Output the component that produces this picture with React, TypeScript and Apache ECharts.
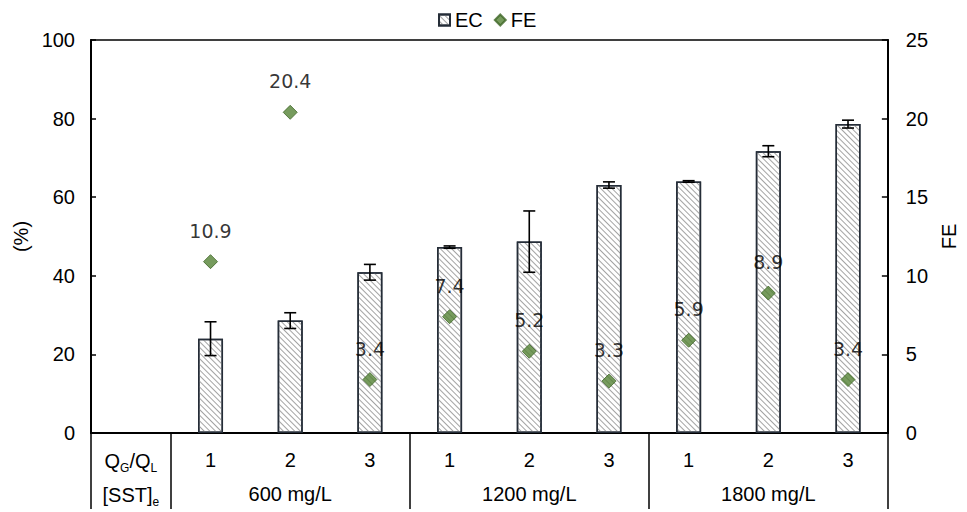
import React, { useEffect, useRef } from "react";
import * as echarts from "echarts";

// ---- data ----
const headerRow1 = "QG/QL";
const headerRow2 = "[SST]e";
const qRatio = ["1", "2", "3", "1", "2", "3", "1", "2", "3"];
const sstGroups = ["600 mg/L", "1200 mg/L", "1800 mg/L"];
const ecValues = [24.0, 28.6, 40.9, 47.3, 48.7, 63.1, 64.0, 71.7, 78.6];
const ecErrors = [4.3, 2.0, 2.0, 0.3, 7.8, 0.8, 0.2, 1.4, 1.0];
const feValues = [10.9, 20.4, 3.4, 7.4, 5.2, 3.3, 5.9, 8.9, 3.4];
const leftTicks = { min: 0, max: 100, interval: 20 };
const rightTicks = { min: 0, max: 25, interval: 5 };

const FONT = "Liberation Sans";
const FS = 20;

export default function App() {
  const ref = useRef<HTMLDivElement>(null);

  useEffect(() => {
    if (!ref.current) return;
    const chart = echarts.init(ref.current, undefined, { renderer: "svg" });

    // categories: first column is the header column of the table
    const row1 = [headerRow1, ...qRatio];
    const row2: string[] = [headerRow2];
    sstGroups.forEach((g) => {
      row2.push("", g, "");
    });
    // group boundaries for vertical separators (category index where boundary starts)
    const boundaries = new Set<number>([0, 1]);
    for (let i = 0; i < sstGroups.length; i++) boundaries.add(1 + i * 3);

    const barData: any[] = ["-", ...ecValues];
    const feData: any[] = ["-", ...feValues];
    const errData = ecValues.map((v, i) => [i + 1, v - ecErrors[i], v + ecErrors[i]]);

    const axisLabelBase = {
      color: "#000",
      fontFamily: FONT,
      fontSize: FS,
      lineHeight: 22,
    };
    const richSub = {
      n: { fontFamily: FONT, fontSize: FS, color: "#000", lineHeight: 22, verticalAlign: "bottom" },
      s: { fontFamily: FONT, fontSize: 12, color: "#000", lineHeight: 22, verticalAlign: "bottom", padding: [0, 0, -3, 0] },
    };

    chart.setOption({
      animation: false,
      backgroundColor: "#fff",
      textStyle: { fontFamily: FONT },
      legend: {
        left: 433,
        top: 5,
        itemWidth: 11,
        itemHeight: 11,
        itemGap: 11,
        textStyle: { fontFamily: FONT, fontSize: FS, color: "#000" },
        data: [
          { name: "EC", icon: "rect" },
          { name: "FE", icon: "diamond" },
        ],
      },
      grid: {
        left: 91,
        right: 78,
        top: 40,
        bottom: 79,
        show: true,
        borderColor: "#000",
        borderWidth: 1.5,
        backgroundColor: "transparent",
      },
      xAxis: [
        {
          type: "category",
          data: row1,
          boundaryGap: true,
          position: "bottom",
          axisLine: { show: true, lineStyle: { color: "#000", width: 2 } },
          axisTick: {
            show: true,
            length: 76,
            interval: (index: number) => boundaries.has(index),
            lineStyle: { color: "#000", width: 1.5 },
          },
          axisLabel: {
            ...axisLabelBase,
            interval: 0,
            margin: 16,
            formatter: (value: string, index: number) =>
              index === 0 ? "{n|Q}{s|G}{n|/Q}{s|L}" : value,
            rich: richSub,
          },
          splitLine: { show: false },
        },
        {
          type: "category",
          data: row2,
          boundaryGap: true,
          position: "bottom",
          axisLine: { show: false },
          axisTick: { show: false },
          axisLabel: {
            ...axisLabelBase,
            interval: 0,
            margin: 50,
            formatter: (value: string, index: number) =>
              index === 0 ? "{n|[SST]}{s|e}" : value,
            rich: richSub,
          },
          splitLine: { show: false },
        },
      ],
      yAxis: [
        {
          type: "value",
          position: "left",
          ...leftTicks,
          name: "(%)",
          nameLocation: "middle",
          nameRotate: 90,
          nameGap: 56,
          nameTextStyle: { fontFamily: FONT, fontSize: FS, color: "#000" },
          axisLine: { show: true, lineStyle: { color: "#000", width: 2 } },
          axisTick: { show: true, inside: true, length: 5, lineStyle: { color: "#000", width: 1.5 } },
          axisLabel: { color: "#000", fontFamily: FONT, fontSize: FS, margin: 16 },
          splitLine: { show: false },
        },
        {
          type: "value",
          position: "right",
          ...rightTicks,
          name: "FE",
          nameLocation: "middle",
          nameRotate: 90,
          nameGap: 51,
          nameTextStyle: { fontFamily: FONT, fontSize: FS, color: "#000" },
          axisLine: { show: true, lineStyle: { color: "#000", width: 2 } },
          axisTick: { show: true, inside: true, length: 6, lineStyle: { color: "#000", width: 1.5 } },
          axisLabel: { color: "#000", fontFamily: FONT, fontSize: FS, margin: 18 },
          splitLine: { show: false },
        },
      ],
      series: [
        {
          name: "EC",
          type: "bar",
          xAxisIndex: 0,
          yAxisIndex: 0,
          barWidth: 25,
          data: barData,
          z: 2,
          itemStyle: {
            color: "#ffffff",
            borderColor: "#252d38",
            borderWidth: 1.5,
            decal: {
              symbol: "rect",
              symbolSize: 1,
              color: "#a3a3a3",
              dashArrayX: [1, 0],
              dashArrayY: [1, 2.6],
              rotation: Math.PI / 4,
            },
          },
        },
        {
          name: "ECerr",
          type: "custom",
          xAxisIndex: 0,
          yAxisIndex: 0,
          z: 3,
          encode: { x: 0, y: [1, 2] },
          data: errData,
          renderItem: (params: any, api: any) => {
            const x = api.value(0);
            const lo = api.value(1);
            const hi = api.value(2);
            const pHi = api.coord([x, hi]);
            const pLo = api.coord([x, lo]);
            const w = 6;
            const style = { stroke: "#000", lineWidth: 1.6 };
            return {
              type: "group",
              children: [
                { type: "line", shape: { x1: pHi[0], y1: pHi[1], x2: pLo[0], y2: pLo[1] }, style },
                { type: "line", shape: { x1: pHi[0] - w, y1: pHi[1], x2: pHi[0] + w, y2: pHi[1] }, style },
                { type: "line", shape: { x1: pLo[0] - w, y1: pLo[1], x2: pLo[0] + w, y2: pLo[1] }, style },
              ],
            };
          },
        },
        {
          name: "FE",
          type: "scatter",
          xAxisIndex: 0,
          yAxisIndex: 1,
          symbol: "diamond",
          symbolSize: [14, 14],
          z: 4,
          data: feData,
          itemStyle: { color: "#548235", borderColor: "#3d6526", borderWidth: 1 },
          label: {
            show: true,
            position: "top",
            distance: 14,
            color: "#000",
            fontFamily: "DejaVu Sans",
            fontSize: 19,
            formatter: (p: any) => String(p.value),
          },
        },
      ],
    });

    return () => chart.dispose();
  }, []);

  return (
    <div
      ref={ref}
      style={{ position: "fixed", left: 0, top: 0, width: 967, height: 512 }}
    />
  );
}
